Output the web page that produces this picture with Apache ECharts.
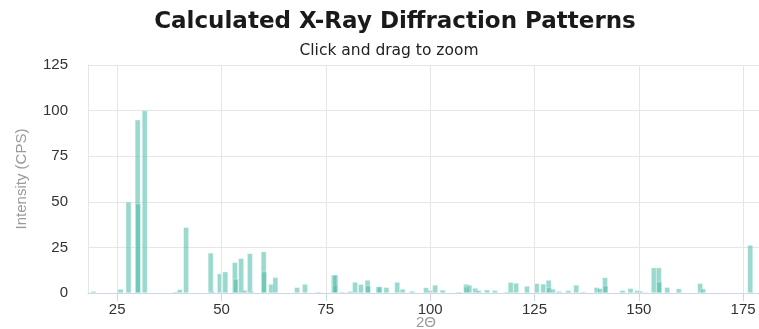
<!DOCTYPE html>
<html>
<head>
<meta charset="utf-8">
<script src="https://cdn.jsdelivr.net/npm/echarts@6/dist/echarts.min.js"></script>
<style>
  html, body { margin: 0; padding: 0; background: #fff; }
  #chart { width: 759px; height: 329px; }
</style>
</head>
<body>
<div id="chart"></div>
<script>
// Peak positions (2θ, degrees) and calculated intensities (CPS)
const twoTheta = [
  19.3, 25.8, 27.7, 29.9, 30.0, 31.6, 39.1, 40.0, 41.5, 47.4,
  47.7, 49.6, 50.9, 53.2, 53.4, 54.7, 55.5, 56.8, 57.1, 60.1,
  60.2, 61.9, 62.9, 68.1, 70.0, 73.2, 76.9, 77.1, 77.3, 78.9,
  80.8, 82.0, 83.4, 85.0, 85.1, 87.6, 87.9, 89.5, 92.1, 93.4,
  95.7, 99.0, 100.0, 101.2, 103.0, 106.9, 108.6, 108.7, 109.4, 110.8,
  111.6, 113.6, 115.5, 118.4, 119.3, 120.6, 123.2, 125.5, 127.1, 128.4,
  128.5, 129.4, 130.9, 133.1, 135.0, 136.7, 139.9, 140.7, 141.9, 142.0,
  146.1, 148.0, 149.6, 150.3, 151.4, 153.6, 154.8, 154.9, 156.8, 159.6,
  164.7, 165.4, 176.7
];
const intensity = [
  1.0, 2.2, 50.0, 95.0, 49.0, 100.0, 0.7, 2.0, 36.0, 22.0,
  1.0, 10.6, 11.7, 16.8, 7.7, 19.0, 1.6, 21.7, 1.0, 22.7,
  11.7, 4.9, 8.6, 3.1, 4.9, 0.7, 9.9, 4.4, 10.0, 0.7,
  1.0, 6.0, 4.8, 7.1, 4.0, 3.5, 3.5, 3.1, 6.0, 2.2,
  1.1, 3.0, 1.5, 4.4, 1.7, 0.7, 4.9, 3.5, 4.4, 2.7,
  1.5, 1.8, 1.5, 0.7, 5.9, 5.5, 3.8, 5.3, 5.0, 7.1,
  3.0, 2.2, 1.0, 1.4, 4.4, 0.7, 3.1, 2.6, 8.5, 4.0,
  1.5, 2.6, 1.5, 1.2, 0.5, 13.9, 13.9, 6.2, 3.1, 2.4,
  5.3, 2.4, 26.3
];
const xTicks = [25, 50, 75, 100, 125, 150, 175];

const peaks = twoTheta.map((t, i) => [t, intensity[i]]);

const chart = echarts.init(document.getElementById('chart'), null, { renderer: 'canvas' });

chart.setOption({
  animation: false,
  backgroundColor: '#ffffff',
  title: [
    {
      text: 'Calculated X-Ray Diffraction Patterns',
      left: 390, top: 6, textAlign: 'center',
      textStyle: { fontFamily: 'DejaVu Sans', fontWeight: 'bold', fontSize: 23, color: '#1a1a1a' }
    },
    {
      text: 'Click and drag to zoom',
      left: 384, top: 38, textAlign: 'center',
      textStyle: { fontFamily: 'DejaVu Sans', fontWeight: 'normal', fontSize: 15.5, color: '#222' }
    }
  ],
  grid: { left: 88, top: 65, width: 676, height: 228, outerBoundsMode: 'none', containLabel: false },
  xAxis: {
    type: 'value',
    min: 18, max: 180,
    name: '2Θ',
    nameLocation: 'middle',
    nameGap: 22,
    nameMoveOverlap: false,
    nameTextStyle: { color: '#9a9a9a', fontSize: 15, fontFamily: 'Liberation Sans' },
    axisLine: { show: true, lineStyle: { color: '#ccd6eb' } },
    axisTick: { show: true, length: 8, customValues: xTicks, lineStyle: { color: '#ccd6eb' } },
    axisLabel: { customValues: xTicks, color: '#333', fontSize: 15, fontFamily: 'Liberation Sans', margin: 9 },
    splitLine: { show: false }
  },
  yAxis: {
    type: 'value',
    min: 0, max: 125, interval: 25,
    name: 'Intensity (CPS)',
    nameLocation: 'middle',
    nameGap: 59,
    nameMoveOverlap: false,
    nameTextStyle: { color: '#9a9a9a', fontSize: 15, fontFamily: 'Liberation Sans' },
    axisLine: { show: true, lineStyle: { color: '#e6e6e6' } },
    axisTick: { show: false },
    axisLabel: { color: '#333', fontSize: 15, fontFamily: 'Liberation Sans', margin: 20 },
    splitLine: { lineStyle: { color: '#e6e6e6' } }
  },
  series: [
    {
      // vertical grid lines at the labelled 2θ positions
      type: 'line',
      data: [],
      z: 1,
      silent: true,
      markLine: {
        silent: true,
        symbol: 'none',
        label: { show: false },
        lineStyle: { color: '#e6e6e6', type: 'solid', width: 1 },
        data: xTicks.map(v => ({ xAxis: v }))
      }
    },
    {
      name: 'Intensity',
      type: 'bar',
      z: 3,
      barWidth: 5.5,
      data: peaks,
      itemStyle: {
        color: 'rgba(80,190,170,0.58)',
        borderColor: 'rgba(255,255,255,0.7)',
        borderWidth: 0.5
      }
    }
  ]
});
</script>
</body>
</html>
